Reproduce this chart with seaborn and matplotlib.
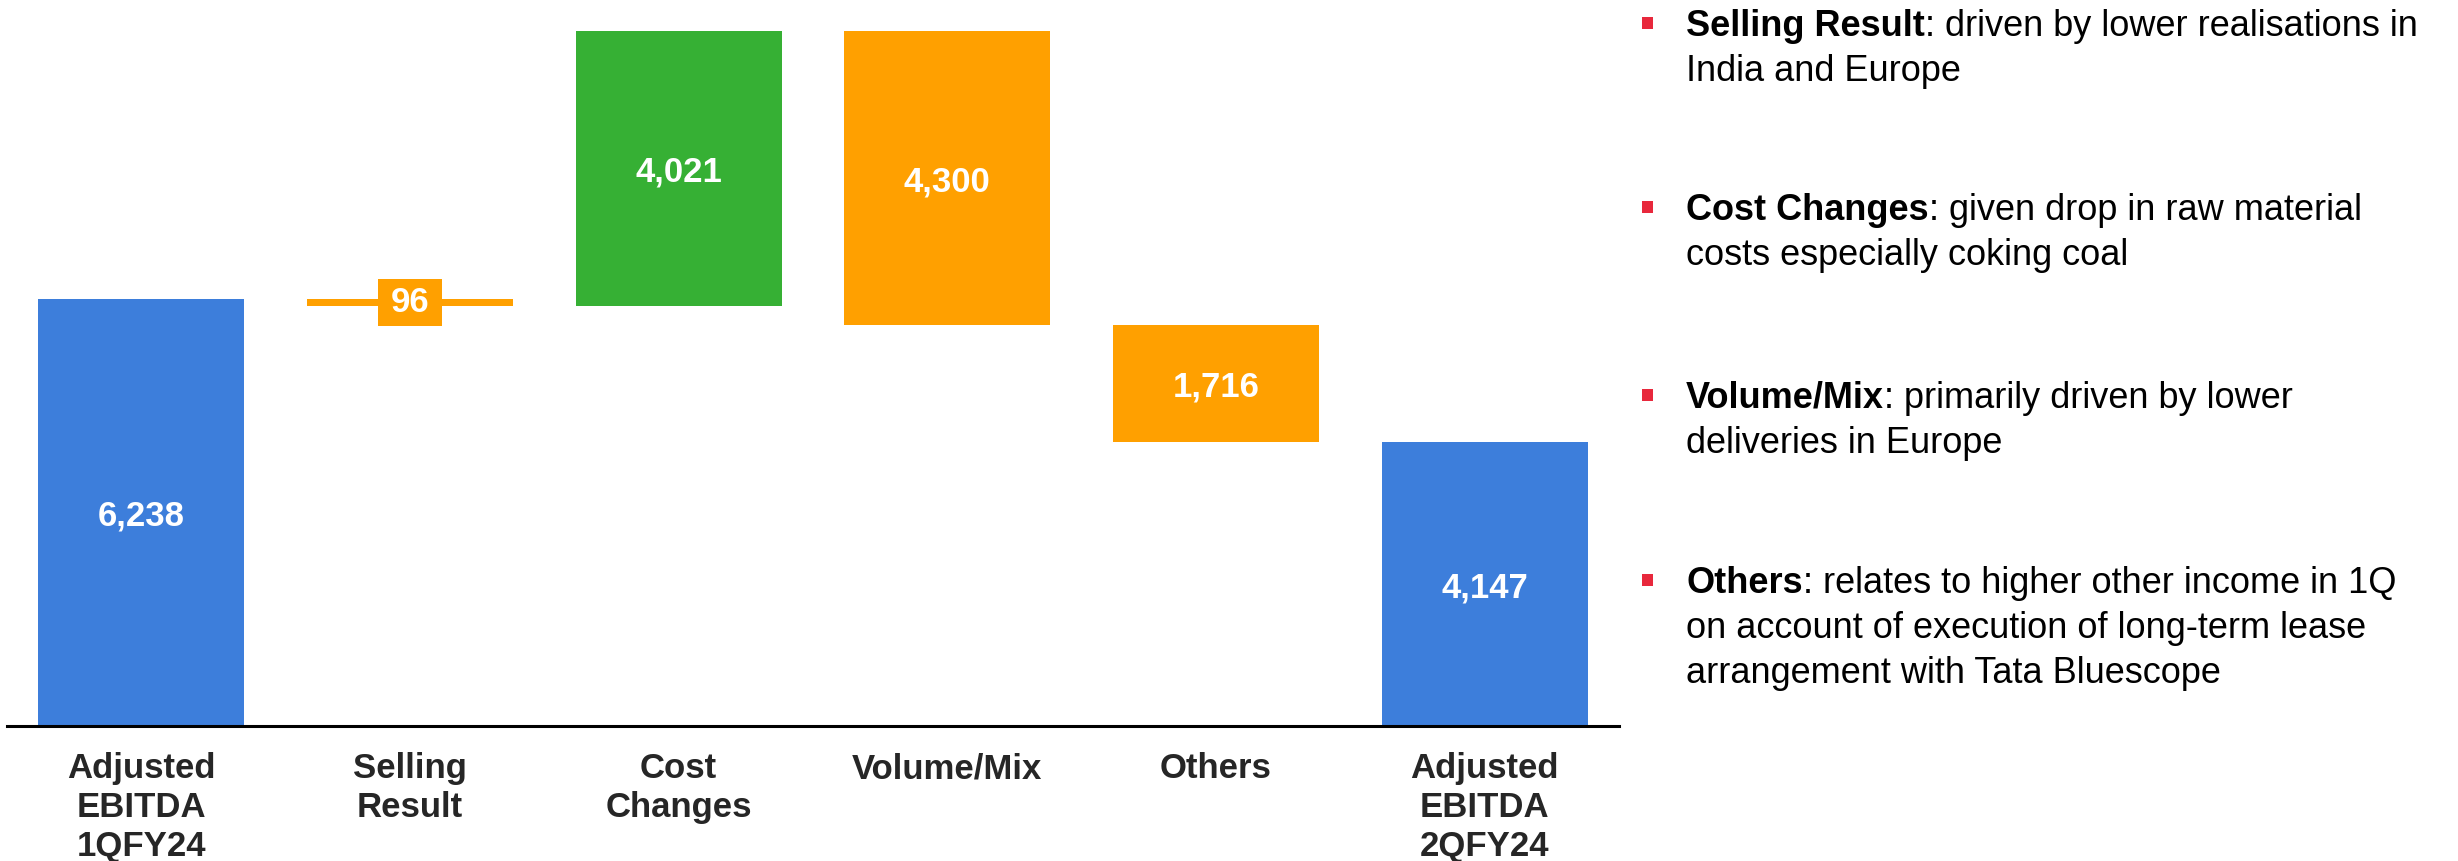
import matplotlib
matplotlib.use("Agg")
import matplotlib.pyplot as plt
from matplotlib.patches import Rectangle
from matplotlib.path import Path
import seaborn as sns
import pandas as pd

# ---- data -------------------------------------------------------------
categories = [
    "Adjusted\nEBITDA\n1QFY24",
    "Selling\nResult",
    "Cost\nChanges",
    "Volume/Mix",
    "Others",
    "Adjusted\nEBITDA\n2QFY24",
]
opening_ebitda = 6238
step_changes = [-96, 4021, -4300, -1716]
closing_ebitda = 4147

bar_colors = ["#3D7EDB", "#FFA000", "#36B034", "#FFA000", "#FFA000", "#3D7EDB"]

note_heads = ["Selling Result", "Cost Changes", "Volume/Mix", "Others"]
note_first_lines = [
    ": driven by lower realisations in",
    ": given drop in raw material",
    ": primarily driven by lower",
    ": relates to higher other income in 1Q",
]
note_more_lines = [
    ["India and Europe"],
    ["costs especially coking coal"],
    ["deliveries in Europe"],
    ["on account of execution of long-term lease", "arrangement with Tata Bluescope"],
]

# ---- waterfall geometry ------------------------------------------------
heights = [opening_ebitda]
bases = [0]
level = opening_ebitda
for change in step_changes:
    new_level = level + change
    bases.append(min(level, new_level))
    heights.append(abs(change))
    level = new_level
heights.append(closing_ebitda)
bases.append(0)

W, H = 2458, 861
sns.set_theme(style="white")
plt.rcParams["font.family"] = ["Liberation Sans", "DejaVu Sans"]

fig = plt.figure(figsize=(W / 100, H / 100), dpi=100)
fig.patch.set_facecolor("white")
ax = fig.add_axes([7 / W, 135 / H, 1612 / W, 695 / H])

df = pd.DataFrame({"step": categories, "height": heights})
sns.barplot(
    data=df, x="step", y="height", hue="step", palette=bar_colors,
    width=0.766, saturation=1, legend=False, ax=ax,
    edgecolor="none", linewidth=0,
)
# float the intermediate steps on their running totals
for patch, base in zip(ax.patches, bases):
    patch.set_y(base)

ax.set_xlim(-0.5, 5.5)
ax.set_ylim(0, max(b + h for b, h in zip(bases, heights)))


def label_box(x0, y0, width, height, mutation_size):
    padx = 0.36 * mutation_size
    pady = 0.2 * mutation_size
    xa, xb = x0 - padx, x0 + width + padx
    ya, yb = y0 - pady, y0 + height + pady
    return Path([(xa, ya), (xb, ya), (xb, yb), (xa, yb), (xa, ya)], closed=True)


for i, (base, h) in enumerate(zip(bases, heights)):
    kw = {}
    if h < 500:
        kw["bbox"] = dict(boxstyle=label_box, fc=bar_colors[i], ec="none")
        va = "center"
    else:
        va = "center_baseline"
    ax.text(i, base + h / 2, f"{h:,}", ha="center", va=va,
            color="white", fontsize=25, fontweight="bold", **kw)

# axes styling
for side in ["top", "right", "left"]:
    ax.spines[side].set_visible(False)
ax.spines["bottom"].set_color("black")
ax.spines["bottom"].set_linewidth(2.2)
ax.set_yticks([])
ax.set_xlabel("")
ax.set_ylabel("")
ax.set_xticks(range(len(categories)))
ax.set_xticklabels(categories, fontsize=25, fontweight="bold", linespacing=1.22)
ax.tick_params(axis="x", length=0, pad=19)

# ---- commentary -------------------------------------------------------
para_baselines = [36, 220, 408, 593]
line_gap = 45
text_x = 1686
for head, first, more, yb in zip(note_heads, note_first_lines, note_more_lines, para_baselines):
    fig.add_artist(Rectangle((1642 / W, 1 - (yb - 7) / H), 11 / W, 12 / H,
                             transform=fig.transFigure, fc="#E8283C", ec="none"))
    t = fig.text(text_x / W, 1 - yb / H, head, fontsize=26, fontweight="bold",
                 color="black", ha="left", va="baseline")
    ax.annotate(first, xy=(1, 0), xycoords=t, ha="left", va="bottom",
                fontsize=26, color="black", annotation_clip=False)
    for k, line in enumerate(more, start=1):
        fig.text(text_x / W, 1 - (yb + k * line_gap) / H, line, fontsize=26,
                 color="black", ha="left", va="baseline")

fig.savefig("out.png", dpi=100, facecolor="white")
